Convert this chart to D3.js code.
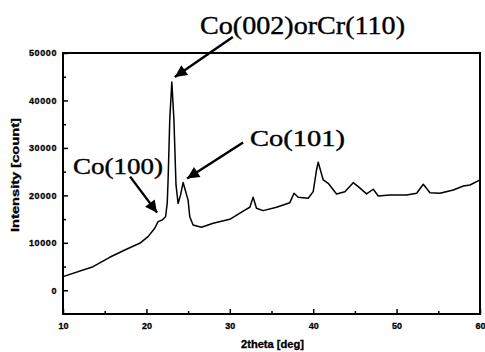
<!DOCTYPE html>
<html>
<head>
<meta charset="utf-8">
<script src="https://cdn.jsdelivr.net/npm/d3@7"></script>
<style>
  html, body { margin: 0; padding: 0; background: #fff; }
  svg { display: block; }
</style>
</head>
<body>
<div id="chart"></div>
<script>
// XRD scan
const twoTheta = [10.0, 13.6, 15.6, 17.6, 19.2, 20.2, 21.0, 21.4, 21.9, 22.3, 22.5, 22.6, 22.8, 23.05, 23.3, 23.55, 23.8, 24.1, 24.4, 25.0, 25.2, 25.6, 26.6, 28.0, 30.0, 31.8, 32.4, 32.8, 33.2, 34.0, 35.6, 37.2, 37.7, 38.2, 39.4, 40.0, 40.4, 40.6, 41.2, 41.8, 42.8, 43.8, 44.8, 45.4, 46.4, 47.2, 47.8, 49.2, 51.2, 52.4, 53.2, 54.0, 55.2, 56.8, 58.0, 58.8, 60.0];
const intensity = [2870, 4970, 6950, 8640, 9900, 11300, 13070, 14460, 14800, 15500, 18400, 23200, 35900, 43900, 35900, 22200, 18300, 20100, 22700, 19000, 15500, 13760, 13280, 14120, 14960, 16900, 17500, 19600, 17280, 16780, 17500, 18460, 20440, 19600, 19390, 20780, 25350, 27000, 23250, 22550, 20300, 20780, 22680, 21830, 20300, 21290, 19870, 20080, 20080, 20440, 22340, 20570, 20440, 21140, 21980, 22190, 23250];

const xTicks = [10, 20, 30, 40, 50, 60];
const yTicks = [0, 10000, 20000, 30000, 40000, 50000];
const xLabel = '2theta [deg]';
const yLabel = 'Intensity [count]';

// peak annotations: label text and the 2theta / intensity they point at
const peakLabels = ['Co(002)orCr(110)', 'Co(101)', 'Co(100)'];
const peakX = [23.05, 24.4, 21.4];
const peakY = [43900, 22700, 14460];

const width = 485, height = 352;
const margin = { top: 53, right: 5, bottom: 38, left: 63 };

const svg = d3.select('#chart').append('svg')
  .attr('width', width)
  .attr('height', height);

const x = d3.scaleLinear().domain([10, 60]).range([margin.left, width - margin.right]);
const y = d3.scaleLinear().domain([-5000, 50000]).range([height - margin.bottom, margin.top]);

const tickFont = '"Liberation Sans", Arial, sans-serif';

// minor ticks (inward)
svg.append('g')
  .attr('transform', `translate(0,${y(-5000)})`)
  .call(d3.axisBottom(x).tickValues(d3.range(15, 60, 10)).tickSize(-3).tickFormat(''))
  .call(g => g.select('.domain').remove())
  .selectAll('line').attr('stroke-width', 1.5);

svg.append('g')
  .attr('transform', `translate(${x(10)},0)`)
  .call(d3.axisLeft(y).tickValues(d3.range(5000, 50000, 10000)).tickSize(-3).tickFormat(''))
  .call(g => g.select('.domain').remove())
  .selectAll('line').attr('stroke-width', 1.5);

// major ticks
const xAxis = svg.append('g')
  .attr('transform', `translate(0,${y(-5000)})`)
  .call(d3.axisBottom(x).tickValues(xTicks).tickSize(-5).tickPadding(9).tickFormat(d3.format('d')));
xAxis.select('.domain').remove();
xAxis.selectAll('line').attr('stroke-width', 1.5);
xAxis.selectAll('text')
  .attr('font-family', tickFont).attr('font-weight', 'bold').attr('font-size', 9)
  .attr('stroke', '#000').attr('stroke-width', 0.3)
  .attr('fill', '#000');

const yAxis = svg.append('g')
  .attr('transform', `translate(${x(10)},0)`)
  .call(d3.axisLeft(y).tickValues(yTicks).tickSize(-5).tickPadding(6).tickFormat(d3.format('d')));
yAxis.select('.domain').remove();
yAxis.selectAll('line').attr('stroke-width', 1.5);
yAxis.selectAll('text')
  .attr('font-family', tickFont).attr('font-weight', 'bold').attr('font-size', 9)
  .attr('letter-spacing', 0.6)
  .attr('stroke', '#000').attr('stroke-width', 0.3)
  .attr('fill', '#000');

// frame
svg.append('rect')
  .attr('x', x(10)).attr('y', y(50000))
  .attr('width', x(60) - x(10)).attr('height', y(-5000) - y(50000))
  .attr('fill', 'none').attr('stroke', '#000').attr('stroke-width', 2);

// axis titles
svg.append('text')
  .attr('x', (x(10) + x(60)) / 2 + 1).attr('y', 348)
  .attr('text-anchor', 'middle')
  .attr('font-family', tickFont).attr('font-weight', 'bold').attr('font-size', 10)
  .attr('stroke', '#000').attr('stroke-width', 0.3)
  .attr('textLength', 63).attr('lengthAdjust', 'spacingAndGlyphs')
  .text(xLabel);

svg.append('text')
  .attr('transform', 'translate(19,175) rotate(-90)')
  .attr('text-anchor', 'middle')
  .attr('font-family', tickFont).attr('font-weight', 'bold').attr('font-size', 10)
  .attr('stroke', '#000').attr('stroke-width', 0.3)
  .attr('textLength', 114).attr('lengthAdjust', 'spacingAndGlyphs')
  .text(yLabel);

// the scan
const line = d3.line()
  .x((d, i) => x(twoTheta[i]))
  .y(d => y(d));

svg.append('path')
  .datum(intensity)
  .attr('fill', 'none')
  .attr('stroke', '#000')
  .attr('stroke-width', 1.5)
  .attr('stroke-linejoin', 'round')
  .attr('d', line);

// arrows + labels
svg.append('defs').append('marker')
  .attr('id', 'arrow')
  .attr('viewBox', '0 -5 10 10')
  .attr('refX', 10).attr('refY', 0)
  .attr('markerUnits', 'userSpaceOnUse')
  .attr('markerWidth', 14).attr('markerHeight', 12)
  .attr('orient', 'auto')
  .append('path')
  .attr('d', 'M0,-5L10,0L0,5Z')
  .attr('fill', '#000');

// tail / tip offsets in px from the peak point, label box
const annoLayout = [
  { tip: [3, -5], tail: [61, -45], tx: 200, ty: 34, size: 26, len: 205 },
  { tip: [4, -4], tail: [60, -40], tx: 250, ty: 146, size: 23, len: 95 },
  { tip: [-1, -9], tail: [-28, -45], tx: 73, ty: 174, size: 23, len: 90 }
];

peakLabels.forEach((lab, i) => {
  const px = x(peakX[i]), py = y(peakY[i]);
  const a = annoLayout[i];
  svg.append('line')
    .attr('x1', px + a.tail[0]).attr('y1', py + a.tail[1])
    .attr('x2', px + a.tip[0]).attr('y2', py + a.tip[1])
    .attr('stroke', '#000').attr('stroke-width', 2.4)
    .attr('marker-end', 'url(#arrow)');
  svg.append('text')
    .attr('x', a.tx).attr('y', a.ty)
    .attr('font-family', '"Liberation Serif", "Times New Roman", serif')
    .attr('font-size', a.size)
    .attr('stroke', '#000').attr('stroke-width', 0.4)
    .attr('textLength', a.len).attr('lengthAdjust', 'spacingAndGlyphs')
    .text(lab);
});
</script>
</body>
</html>
